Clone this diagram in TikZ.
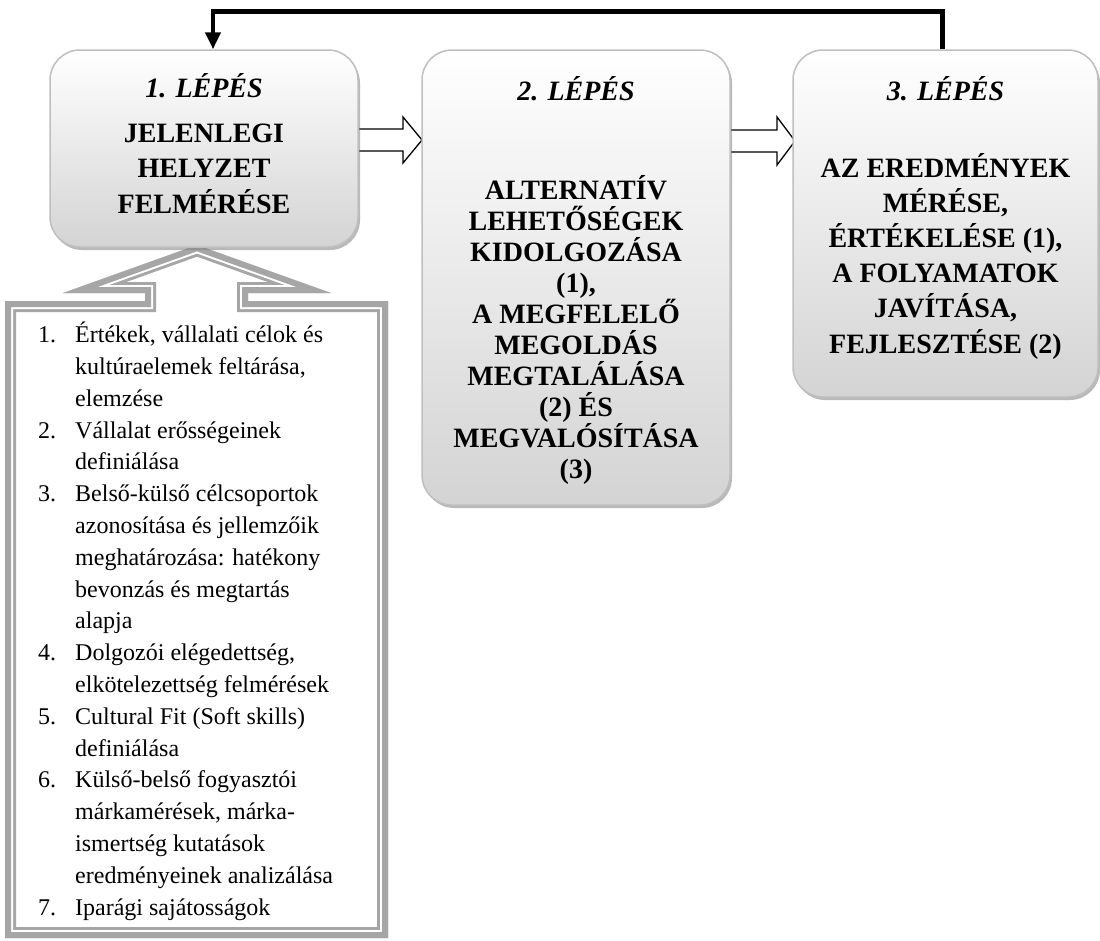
\documentclass[tikz,border=0pt]{standalone}
\usepackage{fontspec}
\setmainfont{Liberation Serif}
\usetikzlibrary{arrows.meta,shadows}

\newcommand\listnum[1]{\makebox[37pt][l]{#1}}
\newcommand\listcont{\hspace*{37pt}}

\begin{document}
\begin{tikzpicture}[x=1pt,y=-1pt,
  stepbox/.style={draw=black!25, line width=1.5pt, rounded corners=30pt,
    top color=white, bottom color=black!17, inner sep=0pt,
    drop shadow={shadow xshift=2pt, shadow yshift=-3pt, fill=black!50, opacity=0.55}},
  headtext/.style={anchor=base, inner sep=0pt, font=\fontsize{28}{34}\selectfont\bfseries\itshape},
  bodytext/.style={anchor=base, inner sep=0pt, align=center},
  hollow/.style={draw=black, line width=1.3pt, fill=white, line join=miter},
  feedback/.style={draw=black, line width=4.5pt, line join=miter,
    -{Triangle[width=15pt,length=17pt]}},
  callgray/.style={draw=black!35}
]
\useasboundingbox (0,0) rectangle (1100,940);

% outline of the up-arrow callout holding the list
\def\calloutpath{(5,938) -- (5,301) -- (145,301) -- (145,293) -- (63,293) -- (197,245)
  -- (331,293) -- (248,293) -- (248,301) -- (388,301) -- (388,938) -- cycle}
\begin{scope}
  \clip \calloutpath;
  \fill[white] \calloutpath;
  % thick-thin double border: thick outer band, white gap, thin inner band
  \draw[callgray, line width=22pt] \calloutpath;
  \draw[white, line width=16pt] \calloutpath;
  \draw[callgray, line width=12pt] \calloutpath;
\end{scope}

% the node's base anchor sits on its last line
\node[anchor=base west, align=left, inner sep=0pt, font=\fontsize{24}{31.8}\selectfont] (list) at (38,915) {%
\listnum{1.}Értékek, vállalati célok és\\
\listcont kultúraelemek feltárása,\\
\listcont elemzése\\
\listnum{2.}Vállalat erősségeinek\\
\listcont definiálása\\
\listnum{3.}Belső-külső célcsoportok\\
\listcont azonosítása és jellemzőik\\
\listcont meghatározása: hatékony\\
\listcont bevonzás és megtartás\\
\listcont alapja\\
\listnum{4.}Dolgozói elégedettség,\\
\listcont elkötelezettség felmérések\\
\listnum{5.}Cultural Fit (Soft skills)\\
\listcont definiálása\\
\listnum{6.}Külső-belső fogyasztói\\
\listcont márkamérések, márka-\\
\listcont ismertség kutatások\\
\listcont eredményeinek analizálása\\
\listnum{7.}Iparági sajátosságok};

% hollow block arrows between the steps
\coordinate (a1) at (356,140);
\draw[hollow] (a1) ++(0,-11) -- ++(47,0) -- ++(0,-12) -- (422,140) -- (403,163)
  -- ++(0,-12) -- ++(-47,0) -- cycle;
\coordinate (a2) at (726,141);
\draw[hollow] (a2) ++(0,-11) -- ++(51,0) -- ++(0,-13) -- (795,141) -- (777,165)
  -- ++(0,-13) -- ++(-51,0) -- cycle;

% the three steps
\node[stepbox, minimum width=308pt, minimum height=197pt] (b1) at (204,148.5) {};
\node[stepbox, minimum width=308pt, minimum height=455pt] (b2) at (576,277.5) {};
\node[stepbox, minimum width=305pt, minimum height=347pt] (b3) at (945.5,223.5) {};

\node[headtext] (h1) at (204,97) {1. LÉPÉS};
\node[bodytext, font=\fontsize{28}{35.5}\selectfont\bfseries] (t1) at (204,213)
  {JELENLEGI\\HELYZET\\FELMÉRÉSE};

\node[headtext] (h2) at (576,100) {2. LÉPÉS};
\node[bodytext, font=\fontsize{28}{31}\selectfont\bfseries] (t2) at (576,478)
  {ALTERNATÍV\\LEHETŐSÉGEK\\KIDOLGOZÁSA\\(1),\\A MEGFELELŐ\\MEGOLDÁS\\MEGTALÁLÁSA\\(2) ÉS\\MEGVALÓSÍTÁSA\\(3)};

\node[headtext] (h3) at (945.5,100) {3. LÉPÉS};
\node[bodytext, font=\fontsize{28}{35.2}\selectfont\bfseries] (t3) at (945.5,353)
  {AZ EREDMÉNYEK\\MÉRÉSE,\\ÉRTÉKELÉSE (1),\\A FOLYAMATOK\\JAVÍTÁSA,\\FEJLESZTÉSE (2)};

% feedback loop from step 3 back to step 1
\draw[feedback] ([xshift=-3pt]b3.north) -- ++(0,-38) -| ([xshift=9pt]b1.north);
\end{tikzpicture}
\end{document}
